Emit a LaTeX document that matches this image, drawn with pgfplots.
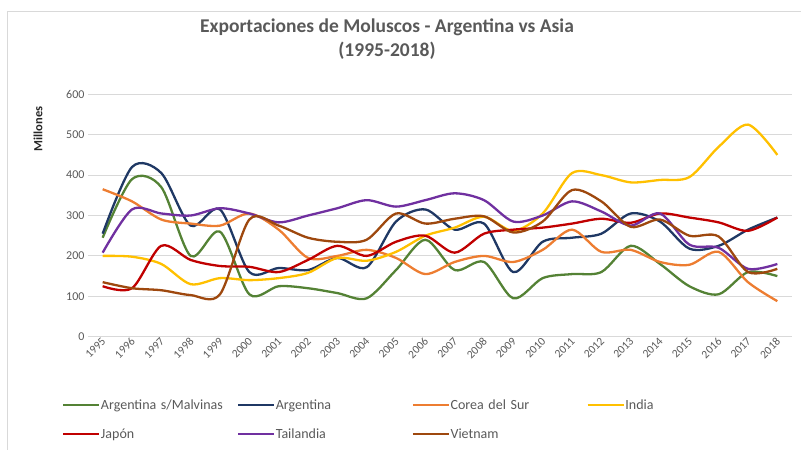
\documentclass[border=0pt]{standalone}
\usepackage{pgfplots}
\pgfplotsset{compat=1.18}
\usepackage{pgfplotstable}
\usepackage{fontspec}
\setmainfont{Carlito}
\definecolor{cgreen}{HTML}{548235}
\definecolor{cnavy}{HTML}{1F3864}
\definecolor{corange}{HTML}{ED7D31}
\definecolor{cyellow}{HTML}{FFC000}
\definecolor{cred}{HTML}{C00000}
\definecolor{cpurple}{HTML}{7030A0}
\definecolor{cbrown}{HTML}{9E480E}
\definecolor{txtgray}{HTML}{595959}
\definecolor{gridgray}{HTML}{D9D9D9}

\pgfplotstableread{
year ArgSM Arg Corea India Japon Tail Viet
1995 245 255 365 200 125 208 135
1996 390 420 335 198 120 315 120
1997 370 405 290 180 225 305 115
1998 200 275 280 130 190 300 103
1999 260 315 275 145 175 318 105
2000 105 160 305 140 173 305 290
2001 125 170 265 145 160 283 275
2002 120 165 195 158 190 300 245
2003 108 195 200 195 225 318 235
2004 95 172 215 188 200 338 240
2005 165 285 195 210 235 322 305
2006 240 315 155 250 250 338 280
2007 165 265 185 270 208 355 292
2008 185 280 200 297 255 338 298
2009 95 160 185 262 265 285 258
2010 145 235 215 305 270 300 285
2011 155 245 265 405 280 335 363
2012 160 255 210 400 292 310 335
2013 225 305 215 382 282 275 272
2014 180 285 185 388 305 305 290
2015 125 218 178 395 295 228 250
2016 105 225 210 470 283 220 248
2017 160 265 135 525 262 168 160
2018 150 295 88 450 295 180 168
}\datatable

\begin{document}
\begin{tikzpicture}[x=1bp,y=1bp]
\useasboundingbox (0bp,0bp) rectangle (801bp,-450bp);
\draw[gridgray, line width=0.75bp] (7bp,-450bp) -- (7bp,-11bp) -- (801bp,-11bp);
\node[font=\fontsize{19.5bp}{22bp}\selectfont\bfseries, text=txtgray] at (387bp,-27bp) {Exportaciones de Moluscos - Argentina vs Asia};
\node[font=\fontsize{19.5bp}{22bp}\selectfont\bfseries, text=txtgray] at (387bp,-51bp) {(1995-2018)};
\node[rotate=90, font=\fontsize{12.5bp}{14bp}\selectfont\bfseries, text=black!85] at (38bp,-129bp) {Millones};
\begin{axis}[
  at={(88bp,-336.7bp)}, anchor=south west,
  scale only axis, width=704bp, height=242.4bp,
  xmin=1994.5, xmax=2018.5, ymin=0, ymax=600,
  xtick={1995,...,2018}, ytick={0,100,...,600},
  axis line style={draw=none},
  major tick length=0pt,
  ymajorgrids, major grid style={gridgray, line width=0.9bp},
  /pgf/number format/assume math mode=true,
  /pgf/number format/1000 sep={},
  x tick label style={rotate=45, anchor=east, font=\fontsize{11.5bp}{12bp}\selectfont, text=txtgray, xshift=2bp, yshift=-3bp},
  y tick label style={font=\fontsize{12bp}{13bp}\selectfont, text=txtgray},
  every axis plot/.append style={line width=2.3bp, smooth, no markers},
  legend columns=4,
  legend cell align=left,
  legend image code/.code={\draw[#1, line width=2.3bp] (0bp,0bp) -- (36bp,0bp);},
  legend style={at={(0,0)}, anchor=north west, xshift=-29bp, yshift=-60bp, draw=none, fill=none,
    font=\fontsize{14bp}{16bp}\selectfont, text=txtgray,
    column sep=0bp, row sep=17bp,
    nodes={inner sep=0.5bp, text width=135.5bp, align=left}},
]
\addplot[cgreen] table[x=year, y=ArgSM] {\datatable};
\addlegendentry{Argentina s/Malvinas}
\addplot[cnavy] table[x=year, y=Arg] {\datatable};
\addlegendentry{Argentina}
\addplot[corange] table[x=year, y=Corea] {\datatable};
\addlegendentry{Corea del Sur}
\addplot[cyellow] table[x=year, y=India] {\datatable};
\addlegendentry{India}
\addplot[cred] table[x=year, y=Japon] {\datatable};
\addlegendentry{Japón}
\addplot[cpurple] table[x=year, y=Tail] {\datatable};
\addlegendentry{Tailandia}
\addplot[cbrown] table[x=year, y=Viet] {\datatable};
\addlegendentry{Vietnam}
\end{axis}
\end{tikzpicture}
\end{document}
